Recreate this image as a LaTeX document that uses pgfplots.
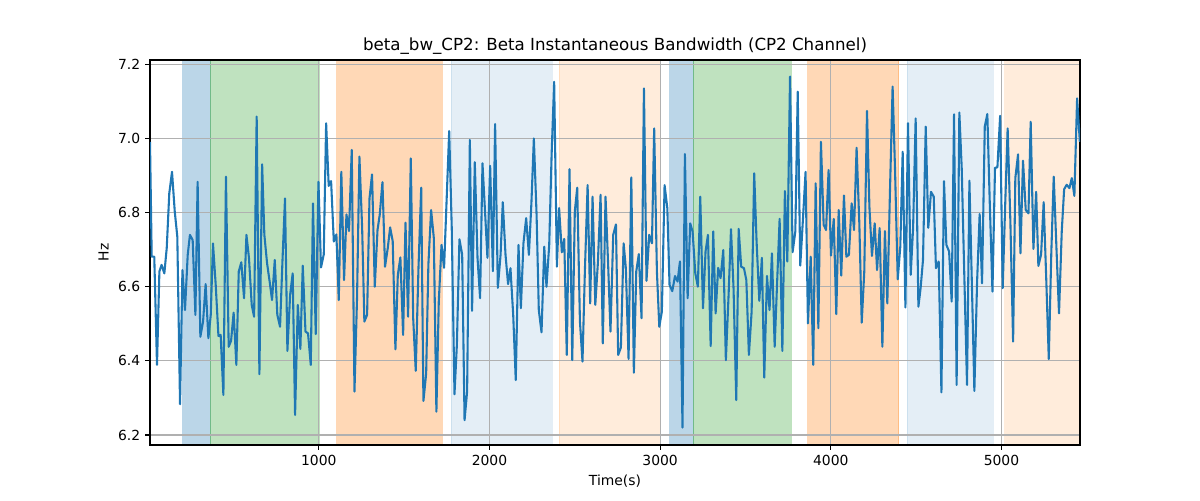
\documentclass[border=0pt]{standalone}
\usepackage{pgfplots}
\pgfplotsset{compat=1.18}
\usepackage{fontspec}
\setmainfont{DejaVu Sans}

\definecolor{tabblue}{RGB}{31,119,180}
\definecolor{tabgreen}{RGB}{44,160,44}
\definecolor{taborange}{RGB}{255,127,14}
\definecolor{gridgray}{RGB}{176,176,176}

% shaded phase band from x1 to x2
\newcommand{\band}[4]{%
  \addplot[on layer=axis background, fill=#3, draw=#3, fill opacity=#4, draw opacity=#4]
    coordinates {(#1,7.3) (#2,7.3)} \closedcycle;}

\begin{document}
\begin{tikzpicture}
\begin{axis}[
  set layers,
  clip mode=individual,
  at={(0,0)}, anchor=south west,
  scale only axis,
  width=669.6pt, height=277.2pt,
  xmin=11, xmax=5460,
  ymin=6.173, ymax=7.2116,
  xtick={1000,2000,3000,4000,5000},
  ytick={6.2,6.4,6.6,6.8,7.0,7.2},
  xticklabel style={/pgf/number format/1000 sep={}},
  yticklabel style={/pgf/number format/.cd, fixed, fixed zerofill, precision=1},
  /pgf/number format/assume math mode=true,
  tick label style={font=\fontsize{10}{12}\selectfont},
  tick align=outside,
  major tick length=3.5pt,
  tick style={black, line width=0.8pt},
  xtick pos=bottom, ytick pos=left,
  grid=major,
  grid style={gridgray, line width=0.8pt},
  axis line style={line width=0.8pt},
  xlabel={Time(s)},
  ylabel={Hz},
  label style={font=\fontsize{10}{12}\selectfont},
  title={beta\_bw\_CP2: Beta Instantaneous Bandwidth (CP2 Channel)},
  title style={font=\fontsize{12}{14}\selectfont, yshift=-5.5pt},
]
\band{202}{363}{tabblue}{0.3}
\band{363}{1004}{tabgreen}{0.3}
\band{1105}{1722}{taborange}{0.3}
\band{1777}{2367}{tabblue}{0.12}
\band{2410}{2993}{taborange}{0.15}
\band{3055}{3192}{tabblue}{0.3}
\band{3192}{3768}{tabgreen}{0.3}
\band{3864}{4397}{taborange}{0.3}
\band{4446}{4952}{tabblue}{0.12}
\band{5019}{5470}{taborange}{0.15}

\addplot[tabblue, line width=1.5pt, line join=round] coordinates {
(11,6.991) (21,6.681) (36,6.681) (52,6.389) (66,6.641) (79,6.659) (95,6.636) (109,6.704)
(124,6.852) (140,6.910) (156,6.803) (171,6.735) (187,6.283) (201,6.645) (216,6.537) (232,6.686)
(245,6.740) (261,6.726) (277,6.524) (290,6.883) (306,6.465) (322,6.506) (337,6.607) (353,6.461)
(367,6.524) (380,6.717) (396,6.605) (412,6.467) (425,6.470) (441,6.308) (456,6.897) (472,6.438)
(486,6.454) (501,6.530) (517,6.389) (531,6.641) (546,6.666) (562,6.569) (576,6.740) (591,6.677)
(607,6.551) (621,6.519) (636,7.059) (652,6.364) (668,6.930) (681,6.740) (697,6.663) (712,6.614)
(726,6.564) (742,6.672) (757,6.524) (773,6.492) (787,6.668) (802,6.838) (816,6.427) (832,6.578)
(847,6.636) (861,6.254) (877,6.551) (892,6.432) (906,6.657) (922,6.479) (937,6.474) (953,6.389)
(966,6.825) (982,6.472) (998,6.883) (1013,6.652) (1029,6.687) (1043,7.041) (1058,6.872) (1072,6.885)
(1088,6.722) (1103,6.741) (1117,6.564) (1132,6.910) (1148,6.618) (1162,6.795) (1177,6.750) (1193,6.969)
(1209,6.317) (1224,6.569) (1238,6.951) (1254,6.758) (1267,6.506) (1283,6.524) (1297,6.838) (1312,6.903)
(1328,6.600) (1344,6.753) (1357,6.794) (1373,6.882) (1388,6.654) (1404,6.704) (1418,6.760) (1433,6.723)
(1449,6.431) (1463,6.632) (1478,6.679) (1494,6.470) (1508,6.773) (1523,6.519) (1539,6.946) (1553,6.515)
(1568,6.373) (1584,6.650) (1600,6.867) (1613,6.292) (1629,6.366) (1642,6.659) (1658,6.807) (1674,6.731)
(1689,6.263) (1703,6.560) (1719,6.713) (1734,6.651) (1750,6.847) (1764,7.020) (1779,6.758) (1795,6.310)
(1809,6.443) (1824,6.728) (1840,6.687) (1854,6.240) (1869,6.317) (1885,6.996) (1898,6.535) (1914,6.936)
(1930,6.677) (1945,6.569) (1959,6.933) (1975,6.794) (1988,6.678) (2004,6.926) (2020,6.642) (2033,7.039)
(2049,6.597) (2065,6.686) (2078,6.828) (2094,6.686) (2109,6.607) (2123,6.650) (2139,6.524) (2154,6.348)
(2170,6.713) (2184,6.542) (2199,6.717) (2215,6.785) (2231,6.686) (2246,6.829) (2260,7.000) (2276,6.794)
(2289,6.537) (2305,6.477) (2321,6.708) (2334,6.600) (2350,6.713) (2364,6.955) (2379,7.153) (2395,6.654)
(2408,6.812) (2424,6.693) (2438,6.729) (2453,6.416) (2469,6.917) (2485,6.402) (2500,6.803) (2514,6.867)
(2530,6.506) (2545,6.398) (2559,6.642) (2575,6.874) (2590,6.555) (2604,6.843) (2620,6.551) (2635,6.663)
(2651,6.848) (2664,6.447) (2680,6.843) (2696,6.650) (2709,6.479) (2725,6.740) (2741,6.768) (2754,6.416)
(2770,6.436) (2786,6.717) (2799,6.650) (2815,6.405) (2831,6.895) (2846,6.368) (2860,6.641) (2875,6.688)
(2891,6.515) (2905,7.135) (2920,6.616) (2936,6.740) (2952,6.717) (2965,7.027) (2981,6.641) (2995,6.492)
(3010,6.533) (3026,6.874) (3042,6.812) (3055,6.605) (3071,6.588) (3087,6.629) (3102,6.614) (3116,6.668)
(3131,6.220) (3145,6.958) (3161,6.569) (3176,6.771) (3190,6.749) (3206,6.636) (3221,6.600) (3235,6.843)
(3251,6.542) (3266,6.695) (3280,6.740) (3296,6.440) (3311,6.749) (3325,6.528) (3340,6.651) (3354,6.623)
(3370,6.699) (3385,6.402) (3401,6.578) (3415,6.755) (3430,6.596) (3446,6.294) (3460,6.756) (3475,6.654)
(3491,6.650) (3505,6.618) (3520,6.416) (3536,6.533) (3551,6.906) (3565,6.722) (3581,6.562) (3596,6.678)
(3610,6.355) (3626,6.629) (3641,6.537) (3655,6.690) (3671,6.438) (3684,6.596) (3700,6.783) (3716,6.427)
(3731,6.858) (3745,6.668) (3761,7.167) (3776,6.693) (3792,6.749) (3806,7.126) (3821,6.657) (3837,6.785)
(3852,6.910) (3866,6.501) (3882,6.681) (3897,6.389) (3911,6.879) (3927,6.488) (3942,6.991) (3958,6.767)
(3972,6.753) (3987,6.915) (4001,6.684) (4017,6.783) (4032,6.526) (4046,6.807) (4061,6.630) (4077,6.846)
(4091,6.681) (4106,6.686) (4122,6.825) (4136,6.753) (4151,6.975) (4167,6.771) (4181,6.503) (4196,6.641)
(4212,7.074) (4226,6.816) (4241,6.683) (4257,6.771) (4271,6.645) (4286,6.758) (4302,6.438) (4317,6.750)
(4331,6.555) (4347,6.866) (4362,7.140) (4376,6.919) (4392,6.620) (4407,6.708) (4421,6.964) (4437,6.544)
(4452,7.041) (4468,6.632) (4482,6.758) (4497,7.054) (4513,6.546) (4526,6.596) (4540,6.672) (4556,7.032)
(4571,6.759) (4587,6.856) (4603,6.843) (4616,6.650) (4632,6.668) (4648,6.315) (4663,6.885) (4677,6.713)
(4693,6.695) (4708,6.560) (4722,7.065) (4737,6.335) (4753,7.070) (4767,6.919) (4782,6.632) (4798,6.335)
(4812,6.886) (4827,6.596) (4841,6.319) (4857,6.614) (4872,6.796) (4886,6.609) (4902,7.032) (4917,7.066)
(4931,6.830) (4947,6.587) (4962,6.921) (4976,6.922) (4992,7.061) (5007,6.596) (5021,6.812) (5036,7.027)
(5052,6.776) (5068,6.452) (5081,6.893) (5097,6.957) (5111,6.690) (5126,6.940) (5142,6.807) (5158,6.798)
(5171,7.045) (5187,6.702) (5203,6.856) (5216,6.656) (5232,6.687) (5247,6.828) (5263,6.609) (5277,6.405)
(5292,6.695) (5306,6.897) (5322,6.704) (5337,6.528) (5353,6.749) (5367,6.863) (5382,6.875) (5398,6.866)
(5412,6.893) (5427,6.845) (5443,7.108) (5459,6.991)
};
\end{axis}
\pgfresetboundingbox
\path (-108pt,-39.6pt) rectangle (756pt,320.4pt);
\end{tikzpicture}
\end{document}
